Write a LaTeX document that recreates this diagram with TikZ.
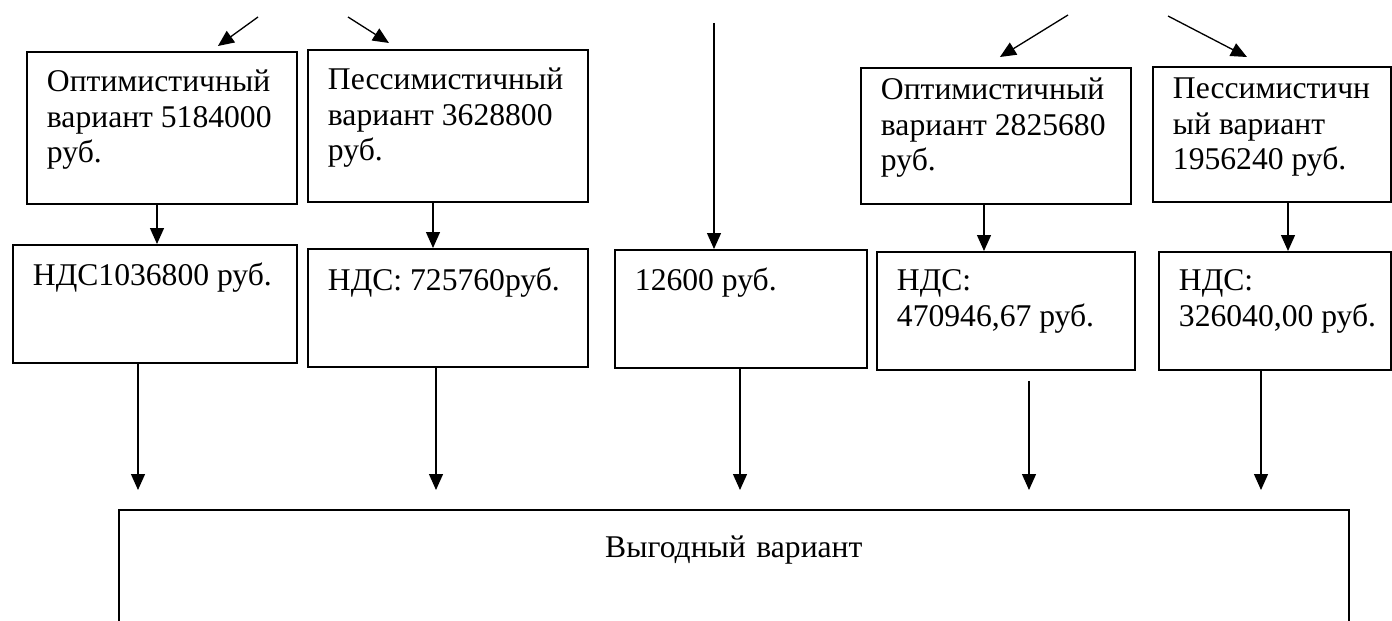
\documentclass[tikz,border=0pt]{standalone}
\usepackage{fontspec}
\setmainfont{Liberation Serif}
\usetikzlibrary{arrows.meta}

\begin{document}
\begin{tikzpicture}[x=0.02cm,y=-0.02cm,
  box/.style={draw, line width=1.1pt, anchor=north west, align=flush left, inner xsep=0.4cm, inner ysep=0pt,
    text height=0.8cm, font=\fontsize{18}{20}\selectfont},
  arr/.style={line width=0.75pt, -{Triangle[length=0.32cm,width=0.28cm]}}]
  \useasboundingbox (0,0) rectangle (1392,621);
  \clip (0,0) rectangle (1392,621);

  \node[box, text width=4.6cm, text depth=2.24cm] (optA) at (26,51) {Оптимистичный\\вариант~5184000\\руб.};
  \node[box, text width=4.8cm, text depth=2.24cm] (optB) at (307,49) {Пессимистичный\\вариант~3628800\\руб.};
  \node[box, text width=4.6cm, text height=0.64cm, text depth=2.08cm] (optC) at (860,67) {Оптимистичный\\вариант~2825680\\руб.};
  \node[box, text width=3.96cm, text height=0.64cm, text depth=2.06cm] (optD) at (1152,66) {Пессимистичн\\ый~вариант\\\mbox{1956240 руб.}};

  \node[box, text width=4.88cm, text height=0.82cm, text depth=1.54cm] (ndsA) at (12,244) {\mbox{НДС1036800 руб.}};
  \node[box, text width=4.8cm, text height=0.84cm, text depth=1.52cm] (ndsB) at (307,248) {НДС:~725760руб.};
  \node[box, text width=4.24cm, text height=0.82cm, text depth=1.54cm] (fix) at (614,249) {12600~руб.};
  \node[box, text width=4.36cm, text height=0.78cm, text depth=1.58cm] (ndsC) at (876,251) {НДС:\\470946,67~руб.};
  \node[box, text width=3.84cm, text height=0.78cm, text depth=1.58cm] (ndsD) at (1158,251) {НДС:\\\mbox{326040,00 руб.}};

  \node[box, align=center, text width=23.8cm, text height=0.96cm, text depth=2cm] (res) at (118,509) {Выгодный вариант};

  \coordinate (s1) at (258,17);
  \coordinate (s2) at (348,17);
  \coordinate (s3) at (1068,15);
  \coordinate (s4) at (1168,16);
  \coordinate (s5) at (714,23);
  \coordinate (dA) at (157,0);
  \coordinate (dB) at (433,0);
  \coordinate (dC) at (984,0);
  \coordinate (dD) at (1288,0);
  \coordinate (inA) at (138,490);
  \coordinate (inB) at (436,490);
  \coordinate (inF) at (740,490);
  \coordinate (inC) at (1029,490);
  \coordinate (inD) at (1261,490);

  \draw[arr] (s1) -- ([xshift=1.12cm,yshift=0.1cm]optA.north);
  \draw[arr] (s2) -- ([xshift=-1.18cm,yshift=0.12cm]optB.north);
  \draw[arr] (s3) -- ([xshift=0.08cm,yshift=0.2cm]optC.north);
  \draw[arr] (s4) -- ([xshift=-0.5cm,yshift=0.18cm]optD.north);
  \draw[arr] (s5) -- (s5 |- fix.north);

  \draw[arr] (optA.south -| dA) -- (ndsA.north -| dA);
  \draw[arr] (optB.south -| dB) -- (ndsB.north -| dB);
  \draw[arr] (optC.south -| dC) -- (ndsC.north -| dC);
  \draw[arr] (optD.south -| dD) -- (ndsD.north -| dD);

  \draw[arr] (ndsA.south -| inA) -- (inA);
  \draw[arr] (ndsB.south -| inB) -- (inB);
  \draw[arr] (fix.south -| inF) -- (inF);
  \draw[arr, shorten <=0.2cm] (ndsC.south -| inC) -- (inC);
  \draw[arr] (ndsD.south -| inD) -- (inD);
\end{tikzpicture}
\end{document}
